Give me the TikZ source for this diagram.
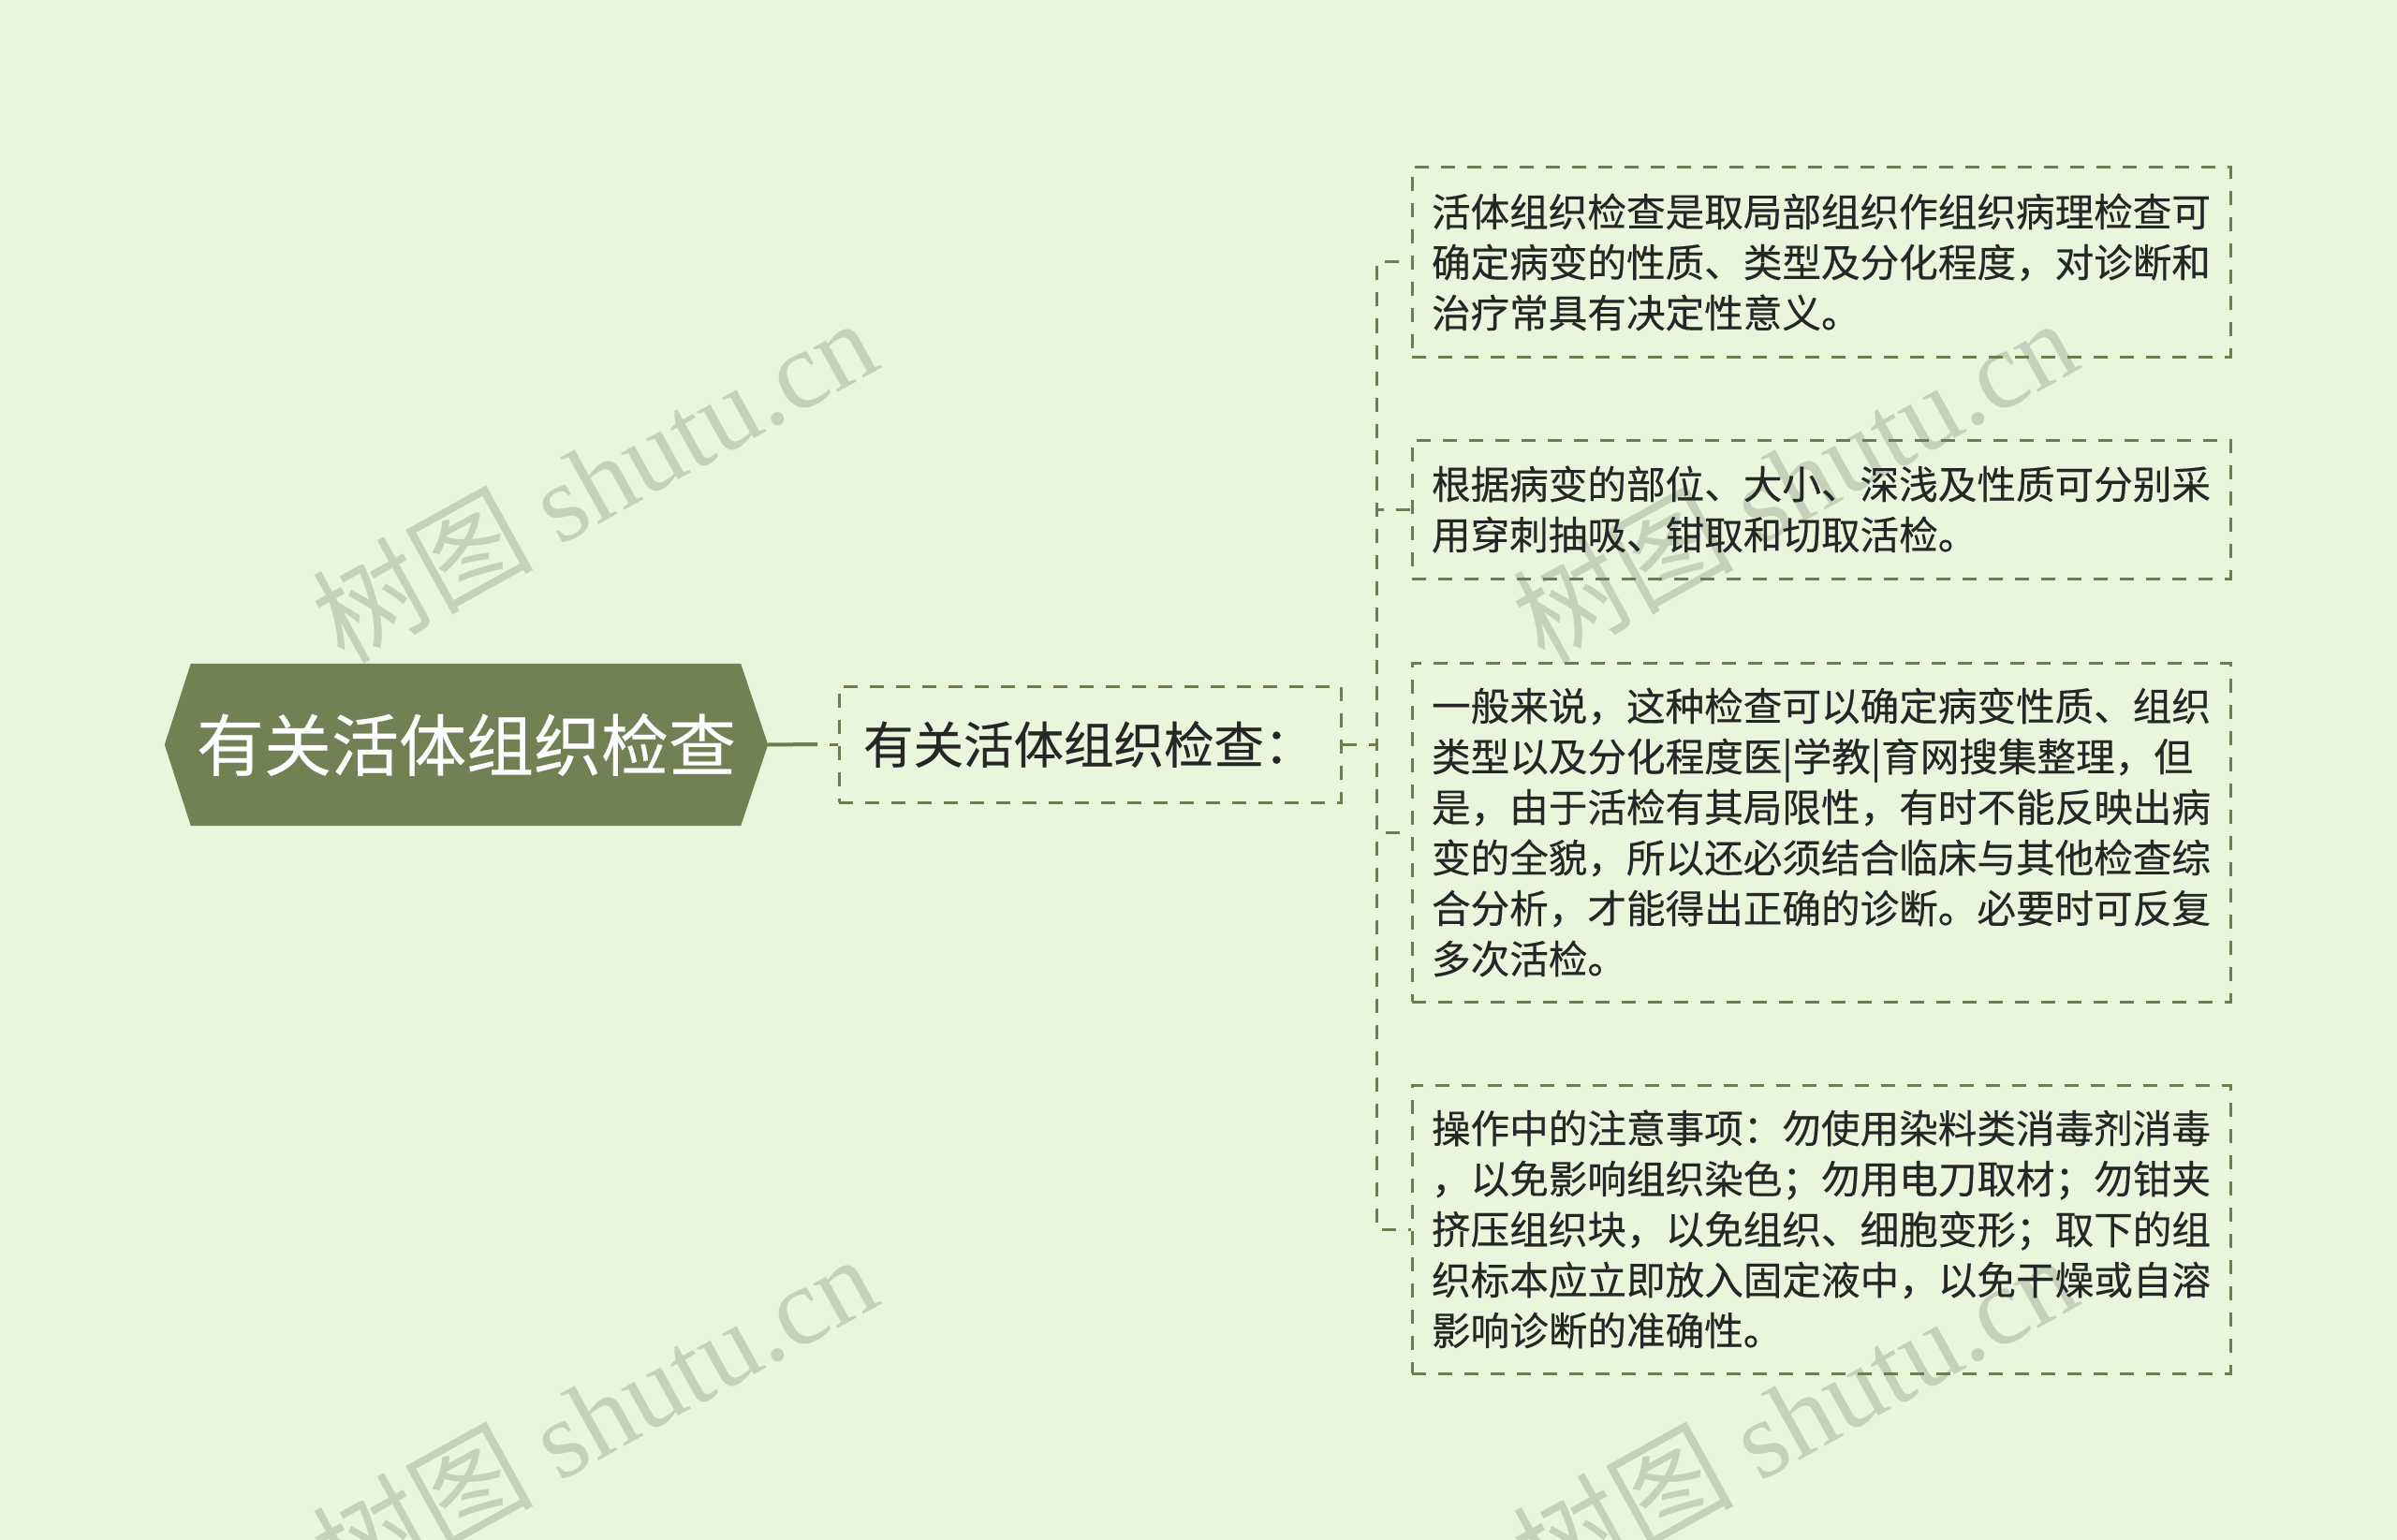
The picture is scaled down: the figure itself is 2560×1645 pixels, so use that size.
\documentclass[tikz,border=0pt]{standalone}
\usepackage{fontspec}
\newfontfamily\cjk{Noto Sans CJK SC}
\newfontfamily\cjkb[FakeBold=0.35]{Noto Sans CJK SC}
\newfontfamily\wmserif{Liberation Serif}
\usetikzlibrary{backgrounds}
\definecolor{bgc}{HTML}{E9F6DC}
\definecolor{olivefill}{HTML}{718154}
\definecolor{dashc}{HTML}{6E7C50}
\definecolor{wmc}{HTML}{C5D1B9}
\definecolor{txt}{HTML}{262626}
\tikzset{
  leafbox/.style={draw=dashc, line width=3pt, dash pattern=on 15pt off 13pt,
    minimum width=874pt, text width=832pt, inner xsep=21pt, inner ysep=0pt,
    align=left, font=\cjkb\fontsize{41.6}{54}\selectfont, text=txt, anchor=center},
  conn/.style={draw=dashc, line width=3pt, dash pattern=on 15pt off 13pt},
  wmark/.style={text=wmc, rotate=29, inner sep=0pt},
}
\begin{document}
\begin{tikzpicture}[x=1pt,y=-1pt]
\useasboundingbox (0,0) rectangle (2560,1645);
\begin{scope}[on background layer]
  \fill[bgc] (0,0) rectangle (2560,1645);
  \node[wmark] (wm1) at (634,512) {\fontsize{118}{118}\selectfont\cjk 树图 \wmserif shutu.cn};
  \node[wmark] (wm2) at (1916,512) {\fontsize{118}{118}\selectfont\cjk 树图 \wmserif shutu.cn};
  \node[wmark] (wm3) at (634,1512) {\fontsize{118}{118}\selectfont\cjk 树图 \wmserif shutu.cn};
  \node[wmark] (wm4) at (1916,1512) {\fontsize{118}{118}\selectfont\cjk 树图 \wmserif shutu.cn};
\end{scope}

\node[minimum width=644pt, minimum height=173pt, inner sep=0pt,
      font=\cjkb\fontsize{72}{80}\selectfont, text=white] (root) at (498,795.5) {有关活体组织检查};
\begin{scope}[on background layer]
  \fill[olivefill] (root.west) -- ([xshift=28pt]root.north west) -- ([xshift=-29pt]root.north east)
    -- (root.east) -- ([xshift=-29pt]root.south east) -- ([xshift=28pt]root.south west) -- cycle;
\end{scope}

\node[draw=dashc, line width=3pt, dash pattern=on 15pt off 13pt, minimum width=536pt,
      minimum height=124pt, text width=484pt, inner xsep=26pt, inner ysep=0pt, align=left,
      font=\cjkb\fontsize{53.5}{60}\selectfont, text=txt] (child) at (1164,795) {有关活体组织检查：};

\node[leafbox, minimum height=202pt] (l1) at (1945,280)
  {活体组织检查是取局部组织作组织病理检查可\\确定病变的性质、类型及分化程度，对诊断和\\治疗常具有决定性意义。};
\node[leafbox, minimum height=148pt] (l2) at (1945,544)
  {根据病变的部位、大小、深浅及性质可分别采\\用穿刺抽吸、钳取和切取活检。};
\node[leafbox, minimum height=362pt] (l3) at (1945,889)
  {一般来说，这种检查可以确定病变性质、组织\\类型以及分化程度医|学教|育网搜集整理，但\\是，由于活检有其局限性，有时不能反映出病\\变的全貌，所以还必须结合临床与其他检查综\\合分析，才能得出正确的诊断。必要时可反复\\多次活检。};
\node[leafbox, minimum height=308pt] (l4) at (1945,1313)
  {操作中的注意事项：勿使用染料类消毒剂消毒\\，以免影响组织染色；勿用电刀取材；勿钳夹\\挤压组织块，以免组织、细胞变形；取下的组\\织标本应立即放入固定液中，以免干燥或自溶\\影响诊断的准确性。};

\coordinate (rc) at (873,795);
\coordinate (j) at (1470,795);
\draw[dashc, line width=4pt] (root.east) -- (rc);
\draw[conn, dash phase=15pt] (rc) -- (child.west);
\foreach \l in {l1,l2,l3,l4}{
  \draw[conn] (child.east) -- (j) |- (\l.west);
}
\end{tikzpicture}
\end{document}
